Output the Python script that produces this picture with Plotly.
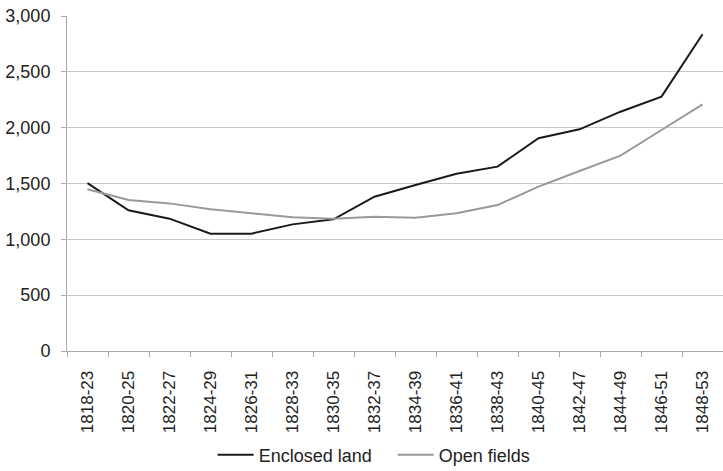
import plotly.graph_objects as go

periods = ["1818-23", "1820-25", "1822-27", "1824-29", "1826-31", "1828-33",
           "1830-35", "1832-37", "1834-39", "1836-41", "1838-43", "1840-45",
           "1842-47", "1844-49", "1846-51", "1848-53"]
enclosed_land = [1504, 1260, 1185, 1051, 1051, 1134, 1179, 1382, 1487, 1588,
                 1651, 1905, 1985, 2143, 2278, 2836]
open_fields = [1448, 1352, 1322, 1269, 1233, 1197, 1185, 1203, 1194, 1233,
               1307, 1472, 1612, 1749, 1979, 2209]
y_ticks = [0, 500, 1000, 1500, 2000, 2500, 3000]

FONT = "Arial, Liberation Sans, Helvetica, sans-serif"

fig = go.Figure()
fig.add_trace(go.Scatter(x=periods, y=enclosed_land, mode="lines",
                         name="Enclosed land",
                         line=dict(color="#1a1a1a", width=2)))
fig.add_trace(go.Scatter(x=periods, y=open_fields, mode="lines",
                         name="Open fields",
                         line=dict(color="#999999", width=2)))

fig.update_layout(
    width=723, height=471,
    margin=dict(l=67, r=0, t=16, b=120, pad=0, autoexpand=False),
    paper_bgcolor="white", plot_bgcolor="white",
    font=dict(family=FONT, size=18, color="#222222"),
    showlegend=True,
    legend=dict(orientation="h", x=0.222, xanchor="left",
                yref="container", y=0.034, yanchor="middle",
                font=dict(size=18, color="#222222"),
                itemwidth=36, entrywidth=129, entrywidthmode="pixels",
                tracegroupgap=0),
    xaxis=dict(
        type="category", tickangle=-90, tickson="boundaries",
        ticks="outside", ticklen=5, tickcolor="#aaaaaa",
        showline=True, linecolor="#aaaaaa", linewidth=1,
        showgrid=False, zeroline=False, automargin=False,
        ticklabelstandoff=12,
        tickfont=dict(size=17, color="#222222"),
        range=[-0.5, len(periods) - 0.5],
    ),
    yaxis=dict(
        range=[0, 3000], tickvals=y_ticks,
        ticktext=[f"{v:,}" for v in y_ticks],
        ticks="outside", ticklen=5, tickcolor="#aaaaaa",
        showline=True, linecolor="#aaaaaa", linewidth=1,
        showgrid=True, gridcolor="#c8c8c8", gridwidth=1,
        zeroline=False, automargin=False,
        ticklabelstandoff=7,
        tickfont=dict(size=18, color="#222222"),
    ),
)

# remove the page's default 8px body margin so the figure fills the window
fig.write_html("out.html", config={"displayModeBar": False},
               post_script="document.body.style.margin='0px';")
